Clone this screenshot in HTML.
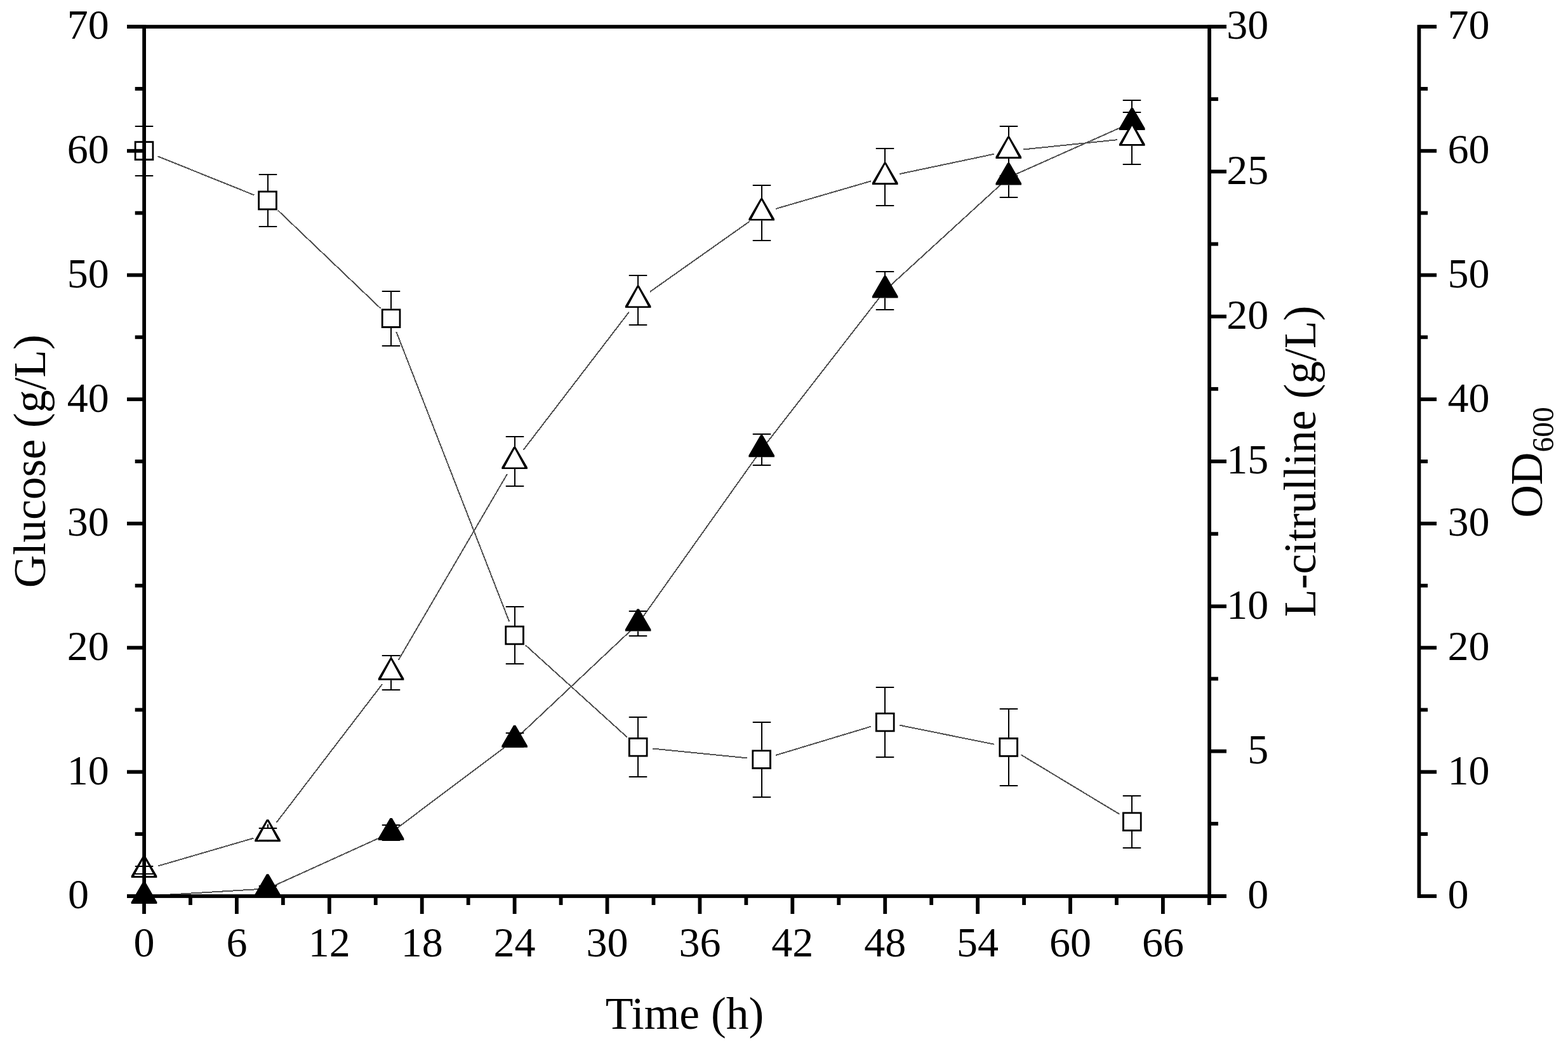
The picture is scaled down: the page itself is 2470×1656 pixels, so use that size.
<!DOCTYPE html>
<html><head><meta charset="utf-8"><style>html,body{margin:0;padding:0;background:#fff;overflow:hidden;}svg{display:block;}</style></head>
<body>
<svg width="2470" height="1656" viewBox="0 0 2470 1656">
<rect x="0" y="0" width="2470" height="1656" fill="#fff"/>
<path d="M227.00 1412.00L421.54 1400.20M421.54 1400.20L616.07 1311.90M616.07 1311.90L810.61 1165.70M810.61 1165.70L1005.14 982.60M1005.14 982.60L1199.68 708.30M1199.68 708.30L1394.22 457.60M1394.22 457.60L1588.75 279.60M1588.75 279.60L1783.29 192.90" stroke="#525252" stroke-width="2" fill="none" shape-rendering="crispEdges"/>
<path d="M249.08 1364.46L399.45 1320.64M435.51 1295.93L602.10 1078.07M627.68 1039.94L799.00 746.86M824.59 708.74L991.16 491.26M1023.93 459.72L1180.90 348.78M1221.76 329.07L1372.13 285.33M1416.72 274.16L1566.25 242.64M1611.63 235.54L1760.41 220.16" stroke="#525252" stroke-width="2" fill="none" shape-rendering="crispEdges"/>
<path d="M248.34 246.19L400.20 307.31M438.17 331.79L599.44 485.81M624.42 523.13L802.26 979.57M827.65 1016.44L988.10 1161.76M1028.03 1179.49L1176.79 1194.41M1221.70 1190.06L1372.20 1144.64M1416.76 1142.57L1566.21 1172.83M1608.44 1189.28L1763.60 1282.92" stroke="#525252" stroke-width="2" fill="none" shape-rendering="crispEdges"/>
<path d="M225.40 1389.00L228.60 1389.00L247.30 1421.20L247.30 1424.00L206.70 1424.00L206.70 1421.20Z" fill="#000"/>

<path d="M419.94 1377.20L423.14 1377.20L441.84 1409.40L441.84 1412.20L401.24 1412.20L401.24 1409.40Z" fill="#000"/>
<rect x="421" y="1384.70" width="2" height="11.30"/><rect x="407.75" y="1395" width="28.50" height="2"/><rect x="421" y="1405.00" width="2" height="7.10"/><rect x="407.75" y="1404" width="28.50" height="2"/>
<path d="M614.47 1288.90L617.67 1288.90L636.37 1321.10L636.37 1323.90L595.77 1323.90L595.77 1321.10Z" fill="#000"/>
<rect x="615" y="1296.40" width="2" height="3.60"/><rect x="601.75" y="1299" width="28.50" height="2"/><rect x="615" y="1323.80" width="2" height="0.20"/><rect x="601.75" y="1323" width="28.50" height="2"/>
<path d="M809.01 1142.70L812.21 1142.70L830.91 1174.90L830.91 1177.70L790.31 1177.70L790.31 1174.90Z" fill="#000"/>
<rect x="810" y="1150.20" width="2" height="4.80"/><rect x="796.75" y="1154" width="28.50" height="2"/><rect x="810" y="1177.00" width="2" height="0.60"/><rect x="796.75" y="1176" width="28.50" height="2"/>
<path d="M1003.54 959.60L1006.74 959.60L1025.44 991.80L1025.44 994.60L984.84 994.60L984.84 991.80Z" fill="#000"/>
<rect x="1004" y="963.00" width="2" height="4.10"/><rect x="990.75" y="962" width="28.50" height="2"/><rect x="1004" y="994.50" width="2" height="7.50"/><rect x="990.75" y="1001" width="28.50" height="2"/>
<path d="M1198.08 685.30L1201.28 685.30L1219.98 717.50L1219.98 720.30L1179.38 720.30L1179.38 717.50Z" fill="#000"/>
<rect x="1199" y="684.00" width="2" height="1.80"/><rect x="1185.75" y="683" width="28.50" height="2"/><rect x="1199" y="720.20" width="2" height="12.80"/><rect x="1185.75" y="732" width="28.50" height="2"/>
<path d="M1392.62 434.60L1395.82 434.60L1414.52 466.80L1414.52 469.60L1373.92 469.60L1373.92 466.80Z" fill="#000"/>
<rect x="1393" y="428.00" width="2" height="7.10"/><rect x="1379.75" y="427" width="28.50" height="2"/><rect x="1393" y="469.50" width="2" height="18.50"/><rect x="1379.75" y="487" width="28.50" height="2"/>
<path d="M1587.15 256.60L1590.35 256.60L1609.05 288.80L1609.05 291.60L1568.45 291.60L1568.45 288.80Z" fill="#000"/>
<rect x="1588" y="248.00" width="2" height="9.10"/><rect x="1574.75" y="247" width="28.50" height="2"/><rect x="1588" y="291.50" width="2" height="19.50"/><rect x="1574.75" y="310" width="28.50" height="2"/>
<path d="M1781.69 169.90L1784.89 169.90L1803.59 202.10L1803.59 204.90L1762.99 204.90L1762.99 202.10Z" fill="#000"/>
<rect x="1782" y="158.00" width="2" height="12.40"/><rect x="1768.75" y="157" width="28.50" height="2"/><rect x="1782" y="204.80" width="2" height="23.20"/><rect x="1768.75" y="227" width="28.50" height="2"/>
<path d="M211.70 222.30h30.6v30.6h-30.6Z M214.70 225.30v24.6h24.6v-24.6Z" fill="#000" fill-rule="evenodd"/>
<rect x="214.70" y="225.30" width="24.60" height="24.60" fill="#fff"/>
<rect x="226" y="199.00" width="2" height="23.60"/><rect x="212.75" y="198" width="28.50" height="2"/><rect x="226" y="252.60" width="2" height="24.40"/><rect x="212.75" y="276" width="28.50" height="2"/>
<path d="M406.24 300.60h30.6v30.6h-30.6Z M409.24 303.60v24.6h24.6v-24.6Z" fill="#000" fill-rule="evenodd"/>
<rect x="409.24" y="303.60" width="24.60" height="24.60" fill="#fff"/>
<rect x="421" y="275.00" width="2" height="25.90"/><rect x="407.75" y="274" width="28.50" height="2"/><rect x="421" y="330.90" width="2" height="26.10"/><rect x="407.75" y="356" width="28.50" height="2"/>
<path d="M600.77 486.40h30.6v30.6h-30.6Z M603.77 489.40v24.6h24.6v-24.6Z" fill="#000" fill-rule="evenodd"/>
<rect x="603.77" y="489.40" width="24.60" height="24.60" fill="#fff"/>
<rect x="615" y="459.00" width="2" height="27.70"/><rect x="601.75" y="458" width="28.50" height="2"/><rect x="615" y="516.70" width="2" height="28.30"/><rect x="601.75" y="544" width="28.50" height="2"/>
<path d="M795.31 985.70h30.6v30.6h-30.6Z M798.31 988.70v24.6h24.6v-24.6Z" fill="#000" fill-rule="evenodd"/>
<rect x="798.31" y="988.70" width="24.60" height="24.60" fill="#fff"/>
<rect x="810" y="956.00" width="2" height="30.00"/><rect x="796.75" y="955" width="28.50" height="2"/><rect x="810" y="1016.00" width="2" height="30.00"/><rect x="796.75" y="1045" width="28.50" height="2"/>
<path d="M989.84 1161.90h30.6v30.6h-30.6Z M992.84 1164.90v24.6h24.6v-24.6Z" fill="#000" fill-rule="evenodd"/>
<rect x="992.84" y="1164.90" width="24.60" height="24.60" fill="#fff"/>
<rect x="1004" y="1130.00" width="2" height="32.20"/><rect x="990.75" y="1129" width="28.50" height="2"/><rect x="1004" y="1192.20" width="2" height="31.80"/><rect x="990.75" y="1223" width="28.50" height="2"/>
<path d="M1184.38 1181.40h30.6v30.6h-30.6Z M1187.38 1184.40v24.6h24.6v-24.6Z" fill="#000" fill-rule="evenodd"/>
<rect x="1187.38" y="1184.40" width="24.60" height="24.60" fill="#fff"/>
<rect x="1199" y="1138.00" width="2" height="43.70"/><rect x="1185.75" y="1137" width="28.50" height="2"/><rect x="1199" y="1211.70" width="2" height="44.30"/><rect x="1185.75" y="1255" width="28.50" height="2"/>
<path d="M1378.92 1122.70h30.6v30.6h-30.6Z M1381.92 1125.70v24.6h24.6v-24.6Z" fill="#000" fill-rule="evenodd"/>
<rect x="1381.92" y="1125.70" width="24.60" height="24.60" fill="#fff"/>
<rect x="1393" y="1083.00" width="2" height="40.00"/><rect x="1379.75" y="1082" width="28.50" height="2"/><rect x="1393" y="1153.00" width="2" height="40.00"/><rect x="1379.75" y="1192" width="28.50" height="2"/>
<path d="M1573.45 1162.10h30.6v30.6h-30.6Z M1576.45 1165.10v24.6h24.6v-24.6Z" fill="#000" fill-rule="evenodd"/>
<rect x="1576.45" y="1165.10" width="24.60" height="24.60" fill="#fff"/>
<rect x="1588" y="1117.00" width="2" height="45.40"/><rect x="1574.75" y="1116" width="28.50" height="2"/><rect x="1588" y="1192.40" width="2" height="45.60"/><rect x="1574.75" y="1237" width="28.50" height="2"/>
<path d="M1767.99 1279.50h30.6v30.6h-30.6Z M1770.99 1282.50v24.6h24.6v-24.6Z" fill="#000" fill-rule="evenodd"/>
<rect x="1770.99" y="1282.50" width="24.60" height="24.60" fill="#fff"/>
<rect x="1782" y="1254.00" width="2" height="25.80"/><rect x="1768.75" y="1253" width="28.50" height="2"/><rect x="1782" y="1309.80" width="2" height="26.20"/><rect x="1768.75" y="1335" width="28.50" height="2"/>
<path d="M225.40 1347.90L228.60 1347.90L247.30 1380.10L247.30 1382.90L206.70 1382.90L206.70 1380.10ZM227.00 1351.30L211.50 1380.10L242.50 1380.10Z" fill="#000" fill-rule="evenodd"/>
<path d="M227.00 1351.30L211.50 1380.10L242.50 1380.10Z" fill="#fff"/>
<rect x="226" y="1355.40" width="2" height="9.60"/><rect x="212.75" y="1364" width="28.50" height="2"/><rect x="226" y="1377.00" width="2" height="5.80"/><rect x="212.75" y="1376" width="28.50" height="2"/>
<path d="M419.94 1291.20L423.14 1291.20L441.84 1323.40L441.84 1326.20L401.24 1326.20L401.24 1323.40ZM421.54 1294.60L406.04 1323.40L437.04 1323.40Z" fill="#000" fill-rule="evenodd"/>
<path d="M421.54 1294.60L406.04 1323.40L437.04 1323.40Z" fill="#fff"/>
<rect x="421" y="1298.70" width="2" height="6.30"/><rect x="407.75" y="1304" width="28.50" height="2"/><rect x="421" y="1324.00" width="2" height="2.10"/><rect x="407.75" y="1323" width="28.50" height="2"/>
<path d="M614.47 1036.80L617.67 1036.80L636.37 1069.00L636.37 1071.80L595.77 1071.80L595.77 1069.00ZM616.07 1040.20L600.57 1069.00L631.57 1069.00Z" fill="#000" fill-rule="evenodd"/>
<path d="M616.07 1040.20L600.57 1069.00L631.57 1069.00Z" fill="#fff"/>
<rect x="615" y="1033.00" width="2" height="4.30"/><rect x="601.75" y="1032" width="28.50" height="2"/><rect x="615" y="1071.70" width="2" height="15.30"/><rect x="601.75" y="1086" width="28.50" height="2"/>
<path d="M809.01 704.00L812.21 704.00L830.91 736.20L830.91 739.00L790.31 739.00L790.31 736.20ZM810.61 707.40L795.11 736.20L826.11 736.20Z" fill="#000" fill-rule="evenodd"/>
<path d="M810.61 707.40L795.11 736.20L826.11 736.20Z" fill="#fff"/>
<rect x="810" y="688.00" width="2" height="16.50"/><rect x="796.75" y="687" width="28.50" height="2"/><rect x="810" y="738.90" width="2" height="27.10"/><rect x="796.75" y="765" width="28.50" height="2"/>
<path d="M1003.54 450.00L1006.74 450.00L1025.44 482.20L1025.44 485.00L984.84 485.00L984.84 482.20ZM1005.14 453.40L989.64 482.20L1020.64 482.20Z" fill="#000" fill-rule="evenodd"/>
<path d="M1005.14 453.40L989.64 482.20L1020.64 482.20Z" fill="#fff"/>
<rect x="1004" y="434.00" width="2" height="16.50"/><rect x="990.75" y="433" width="28.50" height="2"/><rect x="1004" y="484.90" width="2" height="27.10"/><rect x="990.75" y="511" width="28.50" height="2"/>
<path d="M1198.08 312.50L1201.28 312.50L1219.98 344.70L1219.98 347.50L1179.38 347.50L1179.38 344.70ZM1199.68 315.90L1184.18 344.70L1215.18 344.70Z" fill="#000" fill-rule="evenodd"/>
<path d="M1199.68 315.90L1184.18 344.70L1215.18 344.70Z" fill="#fff"/>
<rect x="1199" y="292.00" width="2" height="21.00"/><rect x="1185.75" y="291" width="28.50" height="2"/><rect x="1199" y="347.40" width="2" height="31.60"/><rect x="1185.75" y="378" width="28.50" height="2"/>
<path d="M1392.62 255.90L1395.82 255.90L1414.52 288.10L1414.52 290.90L1373.92 290.90L1373.92 288.10ZM1394.22 259.30L1378.72 288.10L1409.72 288.10Z" fill="#000" fill-rule="evenodd"/>
<path d="M1394.22 259.30L1378.72 288.10L1409.72 288.10Z" fill="#fff"/>
<rect x="1393" y="234.00" width="2" height="22.40"/><rect x="1379.75" y="233" width="28.50" height="2"/><rect x="1393" y="290.80" width="2" height="33.20"/><rect x="1379.75" y="323" width="28.50" height="2"/>
<path d="M1587.15 214.90L1590.35 214.90L1609.05 247.10L1609.05 249.90L1568.45 249.90L1568.45 247.10ZM1588.75 218.30L1573.25 247.10L1604.25 247.10Z" fill="#000" fill-rule="evenodd"/>
<path d="M1588.75 218.30L1573.25 247.10L1604.25 247.10Z" fill="#fff"/>
<rect x="1588" y="199.00" width="2" height="16.40"/><rect x="1574.75" y="198" width="28.50" height="2"/><rect x="1588" y="249.80" width="2" height="27.20"/><rect x="1574.75" y="276" width="28.50" height="2"/>
<path d="M1781.69 194.80L1784.89 194.80L1803.59 227.00L1803.59 229.80L1762.99 229.80L1762.99 227.00ZM1783.29 198.20L1767.79 227.00L1798.79 227.00Z" fill="#000" fill-rule="evenodd"/>
<path d="M1783.29 198.20L1767.79 227.00L1798.79 227.00Z" fill="#fff"/>
<rect x="1782" y="177.00" width="2" height="18.30"/><rect x="1768.75" y="176" width="28.50" height="2"/><rect x="1782" y="229.70" width="2" height="29.30"/><rect x="1768.75" y="258" width="28.50" height="2"/>
<g fill="#000">
<rect x="200.00" y="39.20" width="1732.00" height="5.80"/>
<rect x="200.00" y="1409.10" width="1732.00" height="5.80"/>
<rect x="224.20" y="39.20" width="5.80" height="1375.70"/>
<rect x="1902.20" y="39.20" width="5.80" height="1375.70"/>
<rect x="2232.50" y="39.20" width="5.80" height="1375.70"/>
<rect x="200.00" y="1409.10" width="27.10" height="5.80"/>
<rect x="212.70" y="1311.24" width="14.40" height="5.80"/>
<rect x="200.00" y="1213.39" width="27.10" height="5.80"/>
<rect x="212.70" y="1115.53" width="14.40" height="5.80"/>
<rect x="200.00" y="1017.68" width="27.10" height="5.80"/>
<rect x="212.70" y="919.82" width="14.40" height="5.80"/>
<rect x="200.00" y="821.97" width="27.10" height="5.80"/>
<rect x="212.70" y="724.12" width="14.40" height="5.80"/>
<rect x="200.00" y="626.26" width="27.10" height="5.80"/>
<rect x="212.70" y="528.40" width="14.40" height="5.80"/>
<rect x="200.00" y="430.55" width="27.10" height="5.80"/>
<rect x="212.70" y="332.70" width="14.40" height="5.80"/>
<rect x="200.00" y="234.84" width="27.10" height="5.80"/>
<rect x="212.70" y="136.98" width="14.40" height="5.80"/>
<rect x="200.00" y="39.13" width="27.10" height="5.80"/>
<rect x="224.10" y="1412.00" width="5.80" height="28.00"/>
<rect x="297.05" y="1412.00" width="5.80" height="14.00"/>
<rect x="370.00" y="1412.00" width="5.80" height="28.00"/>
<rect x="442.95" y="1412.00" width="5.80" height="14.00"/>
<rect x="515.90" y="1412.00" width="5.80" height="28.00"/>
<rect x="588.86" y="1412.00" width="5.80" height="14.00"/>
<rect x="661.81" y="1412.00" width="5.80" height="28.00"/>
<rect x="734.76" y="1412.00" width="5.80" height="14.00"/>
<rect x="807.71" y="1412.00" width="5.80" height="28.00"/>
<rect x="880.66" y="1412.00" width="5.80" height="14.00"/>
<rect x="953.61" y="1412.00" width="5.80" height="28.00"/>
<rect x="1026.56" y="1412.00" width="5.80" height="14.00"/>
<rect x="1099.51" y="1412.00" width="5.80" height="28.00"/>
<rect x="1172.46" y="1412.00" width="5.80" height="14.00"/>
<rect x="1245.41" y="1412.00" width="5.80" height="28.00"/>
<rect x="1318.37" y="1412.00" width="5.80" height="14.00"/>
<rect x="1391.32" y="1412.00" width="5.80" height="28.00"/>
<rect x="1464.27" y="1412.00" width="5.80" height="14.00"/>
<rect x="1537.22" y="1412.00" width="5.80" height="28.00"/>
<rect x="1610.17" y="1412.00" width="5.80" height="14.00"/>
<rect x="1683.12" y="1412.00" width="5.80" height="28.00"/>
<rect x="1756.07" y="1412.00" width="5.80" height="14.00"/>
<rect x="1829.02" y="1412.00" width="5.80" height="28.00"/>
<rect x="1901.97" y="1412.00" width="5.80" height="14.00"/>
<rect x="1905.10" y="1409.10" width="26.90" height="5.80"/>
<rect x="1905.10" y="1294.93" width="13.90" height="5.80"/>
<rect x="1905.10" y="1180.76" width="26.90" height="5.80"/>
<rect x="1905.10" y="1066.60" width="13.90" height="5.80"/>
<rect x="1905.10" y="952.43" width="26.90" height="5.80"/>
<rect x="1905.10" y="838.26" width="13.90" height="5.80"/>
<rect x="1905.10" y="724.10" width="26.90" height="5.80"/>
<rect x="1905.10" y="609.93" width="13.90" height="5.80"/>
<rect x="1905.10" y="495.76" width="26.90" height="5.80"/>
<rect x="1905.10" y="381.59" width="13.90" height="5.80"/>
<rect x="1905.10" y="267.43" width="26.90" height="5.80"/>
<rect x="1905.10" y="153.26" width="13.90" height="5.80"/>
<rect x="1905.10" y="39.09" width="26.90" height="5.80"/>
<rect x="2235.40" y="1409.10" width="27.60" height="5.80"/>
<rect x="2235.40" y="1311.24" width="13.60" height="5.80"/>
<rect x="2235.40" y="1213.39" width="27.60" height="5.80"/>
<rect x="2235.40" y="1115.53" width="13.60" height="5.80"/>
<rect x="2235.40" y="1017.68" width="27.60" height="5.80"/>
<rect x="2235.40" y="919.82" width="13.60" height="5.80"/>
<rect x="2235.40" y="821.97" width="27.60" height="5.80"/>
<rect x="2235.40" y="724.12" width="13.60" height="5.80"/>
<rect x="2235.40" y="626.26" width="27.60" height="5.80"/>
<rect x="2235.40" y="528.40" width="13.60" height="5.80"/>
<rect x="2235.40" y="430.55" width="27.60" height="5.80"/>
<rect x="2235.40" y="332.70" width="13.60" height="5.80"/>
<rect x="2235.40" y="234.84" width="27.60" height="5.80"/>
<rect x="2235.40" y="136.98" width="13.60" height="5.80"/>
<rect x="2235.40" y="39.13" width="27.60" height="5.80"/>
</g>
<g font-family="Liberation Serif, serif" font-size="66" fill="#000">
<text x="107.1" y="1431.4">0</text>
<text x="171.8" y="1235.7" text-anchor="end">10</text>
<text x="171.8" y="1040.0" text-anchor="end">20</text>
<text x="171.8" y="844.3" text-anchor="end">30</text>
<text x="171.8" y="648.6" text-anchor="end">40</text>
<text x="171.8" y="452.8" text-anchor="end">50</text>
<text x="171.8" y="257.1" text-anchor="end">60</text>
<text x="171.8" y="61.4" text-anchor="end">70</text>
<text x="227.00" y="1507.3" text-anchor="middle">0</text>
<text x="372.90" y="1507.3" text-anchor="middle">6</text>
<text x="518.80" y="1507.3" text-anchor="middle">12</text>
<text x="664.71" y="1507.3" text-anchor="middle">18</text>
<text x="810.61" y="1507.3" text-anchor="middle">24</text>
<text x="956.51" y="1507.3" text-anchor="middle">30</text>
<text x="1102.41" y="1507.3" text-anchor="middle">36</text>
<text x="1248.31" y="1507.3" text-anchor="middle">42</text>
<text x="1394.22" y="1507.3" text-anchor="middle">48</text>
<text x="1540.12" y="1507.3" text-anchor="middle">54</text>
<text x="1686.02" y="1507.3" text-anchor="middle">60</text>
<text x="1831.92" y="1507.3" text-anchor="middle">66</text>
<text x="1998.3" y="1431.4" text-anchor="end">0</text>
<text x="1998.3" y="1203.1" text-anchor="end">5</text>
<text x="1998.3" y="974.7" text-anchor="end">10</text>
<text x="1998.3" y="746.4" text-anchor="end">15</text>
<text x="1998.3" y="518.1" text-anchor="end">20</text>
<text x="1998.3" y="289.7" text-anchor="end">25</text>
<text x="1998.3" y="61.4" text-anchor="end">30</text>
<text x="2280.5" y="1431.4">0</text>
<text x="2280.5" y="1235.7">10</text>
<text x="2280.5" y="1040.0">20</text>
<text x="2280.5" y="844.3">30</text>
<text x="2280.5" y="648.6">40</text>
<text x="2280.5" y="452.8">50</text>
<text x="2280.5" y="257.1">60</text>
<text x="2280.5" y="61.4">70</text>
</g>
<g font-family="Liberation Serif, serif" font-size="71.5" fill="#000">
<text x="953.7" y="1620.7">Time (h)</text>
<text transform="translate(71.1 926.3) rotate(-90)">Glucose (g/L)</text>
<text transform="translate(2072 972) rotate(-90)">L-citrulline (g/L)</text>
<text transform="translate(2428.8 815.8) rotate(-90)">OD<tspan font-size="47.5" dy="18.5">600</tspan></text>
</g>
</svg>
</body></html>
